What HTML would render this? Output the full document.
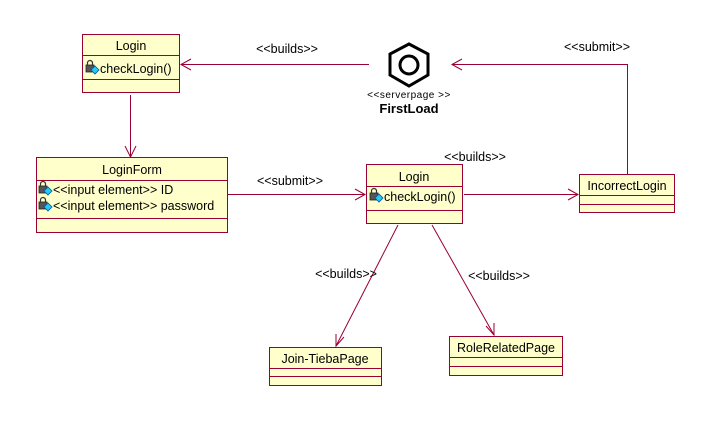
<!DOCTYPE html>
<html><head><meta charset="utf-8"><style>
html,body{margin:0;padding:0;background:#fff;}
svg{display:block;}
text{font-family:"Liberation Sans",sans-serif;font-size:12.5px;fill:#000;}
</style></head><body>
<svg width="716" height="447" viewBox="0 0 716 447" xmlns="http://www.w3.org/2000/svg">
<defs>
<g id="ic">
<rect x="0" y="3" width="8" height="7" fill="#555" stroke="#222" stroke-width="0.8"/>
<path d="M1.5 3 V1 a2.5 2.5 0 0 1 5 0 V3" fill="none" stroke="#333" stroke-width="1.2"/>
<polygon points="9,4 13,8 9,12 5,8" fill="#22ccee" stroke="#0055aa" stroke-width="0.8"/>
</g>
</defs>
<g stroke="#990033" stroke-width="1" fill="#ffffcc">
<rect x="82.5" y="34.5" width="97" height="58"/>
<line x1="82" y1="55.5" x2="180" y2="55.5"/><line x1="82" y1="79.5" x2="180" y2="79.5"/>
<rect x="36.5" y="157.5" width="191" height="75"/>
<line x1="36" y1="180.5" x2="228" y2="180.5"/><line x1="36" y1="218.5" x2="228" y2="218.5"/>
<rect x="366.5" y="164.5" width="96" height="59"/>
<line x1="366" y1="186.5" x2="463" y2="186.5"/><line x1="366" y1="210.5" x2="463" y2="210.5"/>
<rect x="579.5" y="174.5" width="95" height="38"/>
<line x1="579" y1="195.5" x2="675" y2="195.5"/><line x1="579" y1="204.5" x2="675" y2="204.5"/>
<rect x="269.5" y="347.5" width="112" height="38"/>
<line x1="269" y1="368.5" x2="382" y2="368.5"/><line x1="269" y1="376.5" x2="382" y2="376.5"/>
<rect x="449.5" y="336.5" width="113" height="39"/>
<line x1="449" y1="357.5" x2="563" y2="357.5"/><line x1="449" y1="366.5" x2="563" y2="366.5"/>
</g>
<g stroke="#990033" stroke-width="1" fill="none">
<line x1="369" y1="64.5" x2="181" y2="64.5"/><polyline points="191,59 181,64.5 191,70"/>
<polyline points="627.5,174 627.5,64.5 452,64.5"/><polyline points="462,59 452,64.5 462,70"/>
<line x1="130.5" y1="95" x2="130.5" y2="157"/><polyline points="125,146 130.5,157 136,146"/>
<line x1="228" y1="194.5" x2="365" y2="194.5"/><polyline points="355,189 365,194.5 355,200"/>
<line x1="464" y1="194.5" x2="578" y2="194.5"/><polyline points="568,189 578,194.5 568,200"/>
<line x1="398" y1="225" x2="336" y2="346"/><polyline points="336,334 336,346 344,337"/>
<line x1="432" y1="225" x2="494" y2="335"/><polyline points="486,326 494,335 494,323"/>
</g>
<polygon points="409,44 428,54 428,75 409,86 390,75 390,54" fill="none" stroke="#000" stroke-width="3"/>
<circle cx="409" cy="65" r="9" fill="none" stroke="#000" stroke-width="3"/>
<text x="409" y="98" text-anchor="middle" style="font-size:10px;letter-spacing:0.5px">&lt;&lt;serverpage &gt;&gt;</text>
<text x="409" y="113" text-anchor="middle" style="font-weight:bold;font-size:13px">FirstLoad</text>
<text x="131" y="50" text-anchor="middle">Login</text>
<use href="#ic" x="86" y="62"/><text x="100" y="73">checkLogin()</text>
<text x="132" y="174" text-anchor="middle">LoginForm</text>
<use href="#ic" x="39" y="183"/><text x="53" y="194">&lt;&lt;input element&gt;&gt; ID</text>
<use href="#ic" x="39" y="199"/><text x="53" y="210">&lt;&lt;input element&gt;&gt; password</text>
<text x="414" y="181" text-anchor="middle">Login</text>
<use href="#ic" x="370" y="190"/><text x="384" y="201">checkLogin()</text>
<text x="627" y="190" text-anchor="middle">IncorrectLogin</text>
<text x="325" y="363" text-anchor="middle">Join-TiebaPage</text>
<text x="506" y="352" text-anchor="middle">RoleRelatedPage</text>
<text x="287" y="53" text-anchor="middle">&lt;&lt;builds&gt;&gt;</text>
<text x="597" y="51" text-anchor="middle">&lt;&lt;submit&gt;&gt;</text>
<text x="290" y="185" text-anchor="middle">&lt;&lt;submit&gt;&gt;</text>
<text x="475" y="161" text-anchor="middle">&lt;&lt;builds&gt;&gt;</text>
<text x="346" y="278" text-anchor="middle">&lt;&lt;builds&gt;&gt;</text>
<text x="499" y="280" text-anchor="middle">&lt;&lt;builds&gt;&gt;</text>
</svg>
</body></html>
